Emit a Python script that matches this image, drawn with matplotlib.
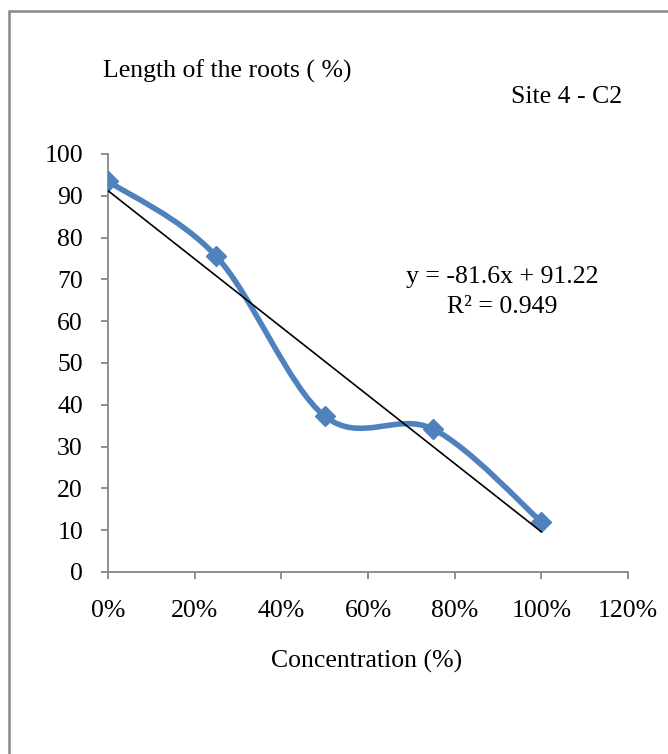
import matplotlib.pyplot as plt
import numpy as np
from matplotlib.path import Path
from matplotlib.patches import PathPatch, Rectangle

conc = [0.0, 0.25, 0.5, 0.75, 1.0]
length = [93.5, 75.5, 37.3, 34.2, 12.0]
x_ticks = [0.0, 0.2, 0.4, 0.6, 0.8, 1.0, 1.2]
x_labels = ['0%', '20%', '40%', '60%', '80%', '100%', '120%']
y_ticks = [0, 10, 20, 30, 40, 50, 60, 70, 80, 90, 100]
slope, intercept = -81.6, 91.22

blue = '#4F81BD'
grey = '#868686'
fs = 18.5
plt.rcParams['font.family'] = ['Liberation Serif', 'DejaVu Serif']

fig = plt.figure(figsize=(6.68, 7.54), dpi=100)
fig.patches.append(Rectangle((8.5 / 668, -0.1), 1.2, 1 - 11 / 754 + 0.1,
                             transform=fig.transFigure, fill=False,
                             edgecolor=grey, linewidth=1.8))
ax = fig.add_axes([108 / 668, 182 / 754, 520 / 668, 418 / 754])


def smooth_path(xs, ys):
    # Excel-like smoothed line: cardinal spline as cubic bezier segments
    pts = np.column_stack([xs, ys])
    verts = [pts[0]]
    codes = [Path.MOVETO]
    n = len(pts)
    for i in range(n - 1):
        p0 = pts[i - 1] if i > 0 else pts[i]
        p1 = pts[i]
        p2 = pts[i + 1]
        p3 = pts[i + 2] if i + 2 < n else pts[i + 1]
        c1 = p1 + (p2 - p0) / 6
        c2 = p2 - (p3 - p1) / 6
        verts += [c1, c2, p2]
        codes += [Path.CURVE4] * 3
    return Path(verts, codes)


ax.add_patch(PathPatch(smooth_path(conc, length), facecolor='none',
                       edgecolor=blue, linewidth=4.0, capstyle='round',
                       joinstyle='round', zorder=3))
ax.plot(conc, length, linestyle='none', marker='D', markersize=10.5,
        color=blue, zorder=4)

tx = np.array([conc[0], conc[-1]])
ax.plot(tx, slope * tx + intercept, color='black', linewidth=1.2, zorder=5)

ax.set_xlim(0, 1.2)
ax.set_ylim(0, 100)
ax.set_xticks(x_ticks)
ax.set_xticklabels(x_labels)
ax.set_yticks(y_ticks)
for s in ['top', 'right']:
    ax.spines[s].set_visible(False)
for s in ['left', 'bottom']:
    ax.spines[s].set_color(grey)
    ax.spines[s].set_linewidth(1.3)
ax.tick_params(axis='both', colors=grey, labelcolor='black', labelsize=fs,
               length=5, width=1.3, direction='out')
ax.tick_params(axis='x', pad=15)
ax.tick_params(axis='y', pad=13)

fig.text(103 / 668, 1 - 77.5 / 754, 'Length of the roots ( %)', fontsize=fs,
         ha='left', va='baseline')
fig.text(622 / 668, 1 - 103 / 754, 'Site 4 - C2', fontsize=fs,
         ha='right', va='baseline')
fig.text(502 / 668, 1 - 283 / 754, 'y = -81.6x + 91.22', fontsize=fs,
         ha='center', va='baseline')
fig.text(502 / 668, 1 - 313 / 754, 'R² = 0.949', fontsize=fs,
         ha='center', va='baseline')
fig.text(367 / 668, 1 - 668 / 754, 'Concentration (%)', fontsize=fs,
         ha='center', va='baseline')

fig.savefig('out.png', dpi=100)
